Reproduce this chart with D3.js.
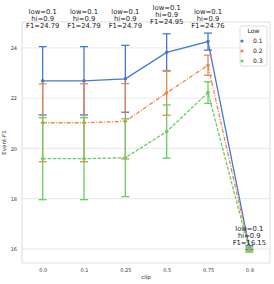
<!DOCTYPE html>
<meta charset="utf-8" />
<script src="https://d3js.org/d3.v7.min.js"></script>
<body style="margin:0;background:#fff">
  <div id="my_dataviz"></div>
  <script>
    // chart data
    const clips = ["0.0", "0.1", "0.25", "0.5", "0.75", "0.9"];
    const lows = ["0.1", "0.2", "0.3"];
    const meanLow01 = [22.69, 22.69, 22.77, 23.82, 24.25, 16.05];
    const errLow01 = [1.36, 1.36, 1.33, 0.74, 0.34, 0.08];
    const meanLow02 = [21.02, 21.02, 21.08, 22.21, 23.31, 16.0];
    const errLow02 = [1.55, 1.55, 1.5, 0.89, 0.4, 0.08];
    const meanLow03 = [19.59, 19.59, 19.63, 20.67, 22.22, 15.95];
    const errLow03 = [1.63, 1.63, 1.55, 1.06, 0.43, 0.08];
    const bestLow = ["0.1", "0.1", "0.1", "0.1", "0.1", "0.1"];
    const bestHi = ["0.9", "0.9", "0.9", "0.9", "0.9", "0.9"];
    const bestF1 = [24.79, 24.79, 24.79, 24.95, 24.76, 16.15];
    const yTicks = [16, 18, 20, 22, 24];

    const series = [
      { low: lows[0], mean: meanLow01, err: errLow01, color: "#4878d0", dash: null },
      { low: lows[1], mean: meanLow02, err: errLow02, color: "#ee854a", dash: "4,1.5,1,1.5" },
      { low: lows[2], mean: meanLow03, err: errLow03, color: "#6acc64", dash: "3.5,1.5" },
    ];

    // dimensions
    var margin = { top: 22, right: 4, bottom: 21, left: 22 },
      width = 274 - margin.left - margin.right,
      height = 284 - margin.top - margin.bottom;

    var svg = d3
      .select("#my_dataviz")
      .append("svg")
      .attr("width", 274)
      .attr("height", 284)
      .style("font-family", "DejaVu Sans, sans-serif")
      .append("g")
      .attr("transform", "translate(" + margin.left + "," + margin.top + ")");

    var x = d3.scalePoint().domain(clips).range([0, width]).padding(0.5);
    var y = d3.scaleLinear().domain([15.44, 25.03]).range([height, 0]);

    // grid
    svg
      .append("g")
      .selectAll("line")
      .data(yTicks)
      .enter()
      .append("line")
      .attr("x1", 0)
      .attr("x2", width)
      .attr("y1", (d) => y(d))
      .attr("y2", (d) => y(d))
      .attr("stroke", "#e3e3e3")
      .attr("stroke-width", 0.8);

    svg
      .append("rect")
      .attr("width", width)
      .attr("height", height)
      .attr("fill", "none")
      .attr("stroke", "#d6d6d6")
      .attr("stroke-width", 0.8);

    // axes
    var yAxis = svg.append("g").call(d3.axisLeft(y).tickValues(yTicks).tickSize(0).tickPadding(5));
    yAxis.select(".domain").remove();
    yAxis.selectAll("text").style("font-size", "5px").attr("fill", "#333").style("font-family", "DejaVu Sans, sans-serif");

    var xAxis = svg
      .append("g")
      .attr("transform", "translate(0," + height + ")")
      .call(d3.axisBottom(x).tickSize(0).tickPadding(5));
    xAxis.select(".domain").remove();
    xAxis.selectAll("text").style("font-size", "5px").attr("fill", "#333").style("font-family", "DejaVu Sans, sans-serif");

    svg
      .append("text")
      .attr("x", width / 2)
      .attr("y", height + 16)
      .attr("text-anchor", "middle")
      .style("font-size", "5.5px")
      .attr("fill", "#333")
      .text("clip");

    svg
      .append("text")
      .attr("transform", "translate(" + (-16) + "," + height / 2 + ")rotate(-90)")
      .attr("text-anchor", "middle")
      .style("font-size", "5.5px")
      .attr("fill", "#333")
      .text("Event-F1");

    // series: error bars, lines, points
    var line = d3
      .line()
      .x((d, i) => x(clips[i]))
      .y((d) => y(d));

    series.forEach(function (s) {
      var g = svg.append("g");
      var cap = 4;
      s.mean.forEach(function (m, i) {
        var cx = x(clips[i]);
        var lo = y(m - s.err[i]),
          hi = y(m + s.err[i]);
        g.append("line").attr("x1", cx).attr("x2", cx).attr("y1", lo).attr("y2", hi)
          .attr("stroke", s.color).attr("stroke-width", 1.3);
        g.append("line").attr("x1", cx - cap).attr("x2", cx + cap).attr("y1", lo).attr("y2", lo)
          .attr("stroke", s.color).attr("stroke-width", 1.3);
        g.append("line").attr("x1", cx - cap).attr("x2", cx + cap).attr("y1", hi).attr("y2", hi)
          .attr("stroke", s.color).attr("stroke-width", 1.3);
      });
      g.append("path")
        .datum(s.mean)
        .attr("d", line)
        .attr("fill", "none")
        .attr("stroke", s.color)
        .attr("stroke-width", 1.3)
        .attr("stroke-dasharray", s.dash);
      g.selectAll("circle")
        .data(s.mean)
        .enter()
        .append("circle")
        .attr("cx", (d, i) => x(clips[i]))
        .attr("cy", (d) => y(d))
        .attr("r", 1.8)
        .attr("fill", s.color);
    });

    // best config annotations
    clips.forEach(function (c, i) {
      var t = svg
        .append("text")
        .attr("x", x(c))
        .attr("y", y(bestF1[i]) - 0.5)
        .attr("text-anchor", "middle")
        .style("font-size", "6.8px")
        .attr("fill", "#222");
      var lines = ["low=" + bestLow[i], "hi=" + bestHi[i], "F1=" + bestF1[i].toFixed(2)];
      lines.forEach(function (l, j) {
        t.append("tspan")
          .attr("x", x(c))
          .attr("dy", j === 0 ? -14 : 7)
          .text(l);
      });
    });

    // legend
    var lg = svg.append("g").attr("transform", "translate(" + (240 - margin.left) + "," + (26 - margin.top) + ")");
    lg.append("rect")
      .attr("width", 27)
      .attr("height", 40)
      .attr("rx", 2)
      .attr("fill", "#fff")
      .attr("fill-opacity", 0.85)
      .attr("stroke", "#d6d6d6")
      .attr("stroke-width", 0.8);
    lg.append("text")
      .attr("x", 13.5)
      .attr("y", 6.5)
      .attr("text-anchor", "middle")
      .style("font-size", "6px")
      .attr("fill", "#222")
      .text("Low");
    series.forEach(function (s, i) {
      lg.append("circle").attr("cx", 2).attr("cy", 15 + i * 10).attr("r", 1.6).attr("fill", s.color);
      lg.append("text")
        .attr("x", 13)
        .attr("y", 15 + i * 10 + 2.2)
        .style("font-size", "6px")
        .attr("fill", "#222")
        .text(s.low);
    });
  </script>
</body>
